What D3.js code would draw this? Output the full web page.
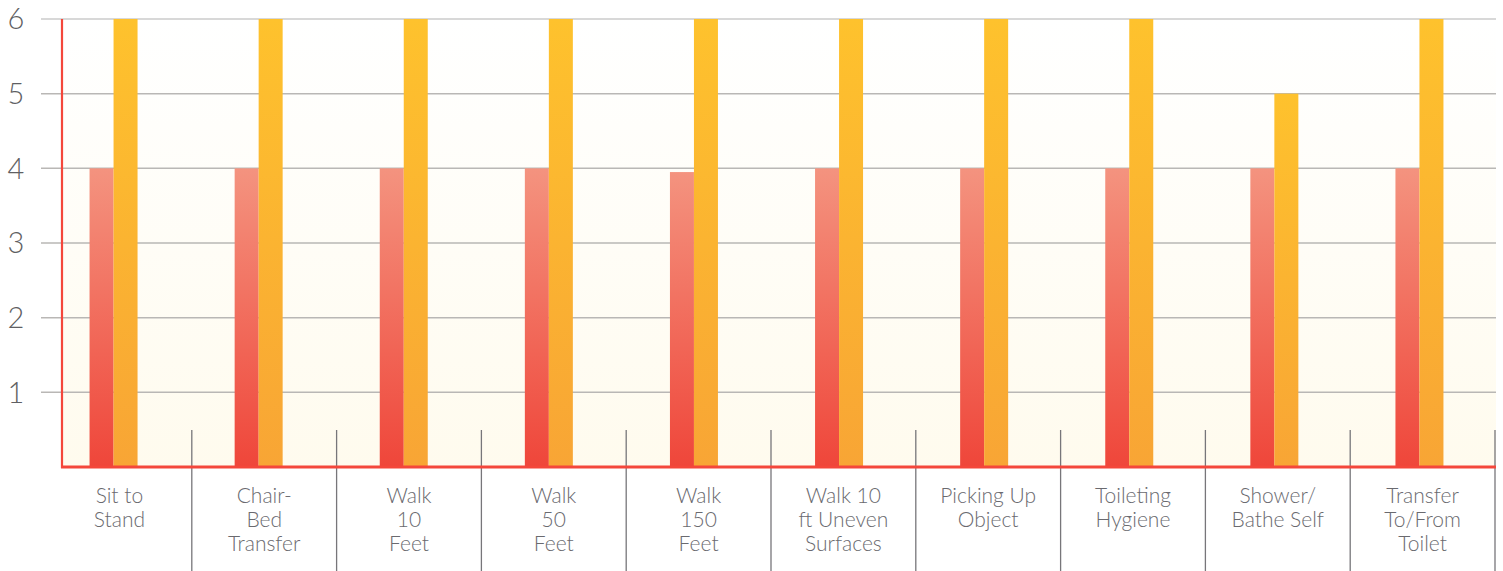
<!DOCTYPE html>
<html lang="en">
  <head>
    <meta charset="UTF-8" />
    <title>Function scores</title>
    <script src="https://d3js.org/d3.v7.min.js"></script>
    <style>
      body {
        margin: 0;
        background: #fff;
      }
      .ytick text {
        font-family: Lato, "Open Sans", sans-serif;
        font-weight: 300;
        font-size: 29px;
        fill: #5f5f63;
      }
      .cat-label {
        font-family: Lato, "Open Sans", sans-serif;
        font-weight: 300;
        font-size: 21px;
        fill: #6a6a6f;
      }
    </style>
  </head>
  <body>
    <div id="chart"></div>
    <script>
      // data
      const categories = [
        "Sit to Stand",
        "Chair-Bed Transfer",
        "Walk 10 Feet",
        "Walk 50 Feet",
        "Walk 150 Feet",
        "Walk 10 ft Uneven Surfaces",
        "Picking Up Object",
        "Toileting Hygiene",
        "Shower/Bathe Self",
        "Transfer To/From Toilet",
      ];
      const labelLines = [
        ["Sit to", "Stand"],
        ["Chair-", "Bed", "Transfer"],
        ["Walk", "10", "Feet"],
        ["Walk", "50", "Feet"],
        ["Walk", "150", "Feet"],
        ["Walk 10", "ft Uneven", "Surfaces"],
        ["Picking Up", "Object"],
        ["Toileting", "Hygiene"],
        ["Shower/", "Bathe Self"],
        ["Transfer", "To/From", "Toilet"],
      ];
      const seriesA = [4, 4, 4, 4, 3.95, 4, 4, 4, 4, 4];
      const seriesB = [6, 6, 6, 6, 6, 6, 6, 6, 5, 6];
      const yTicks = [1, 2, 3, 4, 5, 6];

      const width = 1503;
      const height = 571;
      const plotLeft = 62;
      const plotRight = 1496;
      const plotTop = 19;
      const plotBottom = 467;

      const svg = d3
        .select("#chart")
        .append("svg")
        .attr("width", width)
        .attr("height", height);

      const defs = svg.append("defs");

      function vGradient(id, top, bottom) {
        const g = defs
          .append("linearGradient")
          .attr("id", id)
          .attr("x1", 0)
          .attr("y1", 0)
          .attr("x2", 0)
          .attr("y2", 1);
        g.append("stop").attr("offset", "0%").attr("stop-color", top);
        g.append("stop").attr("offset", "100%").attr("stop-color", bottom);
      }
      vGradient("bg-grad", "#ffffff", "#fffbee");
      vGradient("red-grad", "#f4937f", "#ef463a");
      vGradient("gold-grad", "#fec22d", "#f8a535");

      // label / divider bands
      const x = d3
        .scaleBand()
        .domain(categories)
        .range([47, 1495])
        .paddingInner(0)
        .paddingOuter(0);

      // bar pair bands (slightly wider spacing than the label bands)
      const xBar = d3
        .scaleBand()
        .domain(categories)
        .range([41, 1492])
        .paddingInner(0)
        .paddingOuter(0);

      const y = d3.scaleLinear().domain([0, 6]).range([plotBottom, plotTop]);

      // plot background
      svg
        .append("rect")
        .attr("x", plotLeft)
        .attr("y", plotTop)
        .attr("width", plotRight - plotLeft)
        .attr("height", plotBottom - plotTop)
        .attr("fill", "url(#bg-grad)");

      // gridlines + y labels
      const yAxis = svg
        .append("g")
        .attr("class", "ytick")
        .selectAll("g")
        .data(yTicks)
        .enter()
        .append("g");

      yAxis
        .append("line")
        .attr("x1", 41)
        .attr("x2", plotRight)
        .attr("y1", (d) => y(d))
        .attr("y2", (d) => y(d))
        .attr("stroke", (d) => (d === 6 ? "#cbcbcb" : "#b9b7b5"))
        .attr("stroke-width", 1.5);

      yAxis
        .append("text")
        .attr("x", 16)
        .attr("y", (d) => y(d))
        .attr("dy", "0.36em")
        .attr("text-anchor", "middle")
        .text((d) => d);

      // divider lines below the plot
      const dividers = categories.map((c) => x(c) + x.bandwidth());
      svg
        .append("g")
        .selectAll("line")
        .data(dividers)
        .enter()
        .append("line")
        .attr("x1", (d) => d)
        .attr("x2", (d) => d)
        .attr("y1", 430)
        .attr("y2", height)
        .attr("stroke", "#77767a")
        .attr("stroke-width", 1.3);

      // bars
      const barW = 24;
      const groups = svg
        .append("g")
        .selectAll("g")
        .data(categories)
        .enter()
        .append("g")
        .attr(
          "transform",
          (d) => `translate(${xBar(d) + xBar.bandwidth() / 2},0)`
        );

      groups
        .append("rect")
        .attr("x", -barW)
        .attr("width", barW)
        .attr("y", (d, i) => y(seriesA[i]))
        .attr("height", (d, i) => y(0) - y(seriesA[i]))
        .attr("fill", "url(#red-grad)");

      groups
        .append("rect")
        .attr("x", 0)
        .attr("width", barW)
        .attr("y", (d, i) => y(seriesB[i]))
        .attr("height", (d, i) => y(0) - y(seriesB[i]))
        .attr("fill", "url(#gold-grad)");

      // red axes
      svg
        .append("line")
        .attr("x1", plotLeft)
        .attr("x2", plotLeft)
        .attr("y1", plotTop)
        .attr("y2", plotBottom + 1)
        .attr("stroke", "#f4473b")
        .attr("stroke-width", 2.2);
      svg
        .append("line")
        .attr("x1", plotLeft - 1)
        .attr("x2", plotRight)
        .attr("y1", plotBottom)
        .attr("y2", plotBottom)
        .attr("stroke", "#f4473b")
        .attr("stroke-width", 2.8);

      // category labels
      const labels = svg
        .append("g")
        .selectAll("text")
        .data(categories)
        .enter()
        .append("text")
        .attr("class", "cat-label")
        .attr("text-anchor", "middle")
        .attr("x", (d) => x(d) + x.bandwidth() / 2)
        .attr("y", 503);

      labels
        .selectAll("tspan")
        .data((d, i) =>
          labelLines[i].map((t) => ({ t, cx: x(d) + x.bandwidth() / 2 }))
        )
        .enter()
        .append("tspan")
        .attr("x", (d) => d.cx)
        .attr("dy", (d, j) => (j === 0 ? 0 : 24))
        .text((d) => d.t);
    </script>
  </body>
</html>
